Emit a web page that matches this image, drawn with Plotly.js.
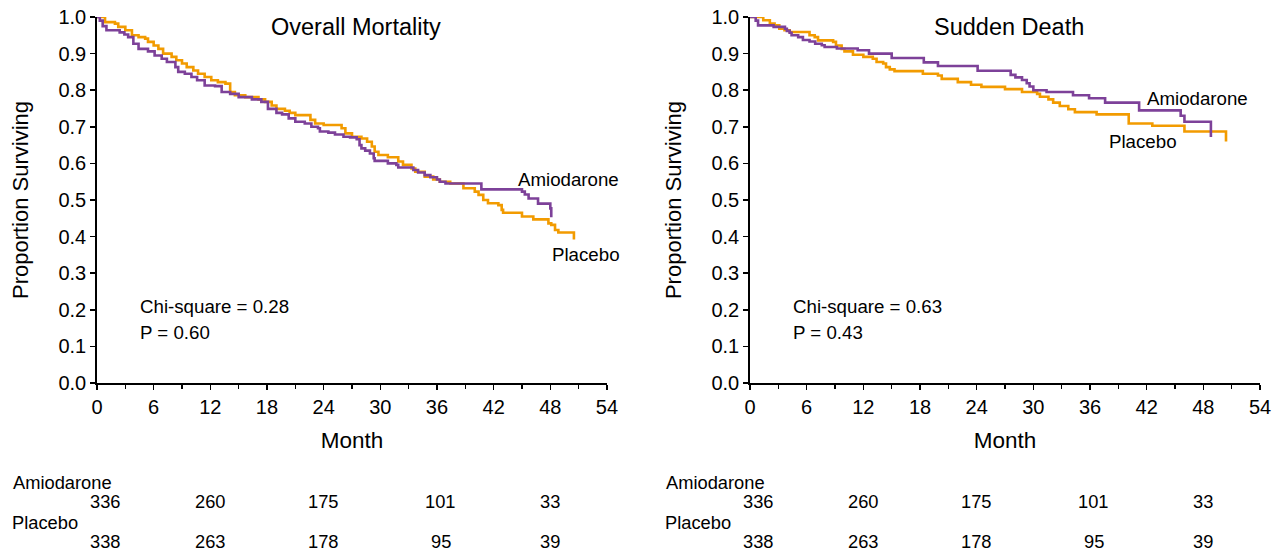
<!DOCTYPE html>
<html>
<head>
<meta charset="utf-8">
<script src="https://cdn.plot.ly/plotly-3.0.1.min.js"></script>
<style>html,body{margin:0;padding:0;background:#fff;}#chart{width:1281px;height:557px;}</style>
</head>
<body>
<div id="chart"></div>
<script>
// ---------- Data ----------
const panelTitles = ["Overall Mortality", "Sudden Death"];
const seriesNames = ["Amiodarone", "Placebo"];

// Overall mortality – Amiodarone
const omAmioMonth = [0, 0.3, 0.6, 1.0, 2.4, 2.9, 3.3, 3.85, 4.4, 5.4, 6.1, 6.85, 7.4, 8.3, 8.6, 9.3, 10.0, 10.6, 11.4, 12.5, 13.2, 14.1, 15.0, 16.4, 17.4, 18.1, 19.0, 19.6, 20.3, 21.0, 22.0, 22.7, 23.4, 23.6, 24.5, 25.2, 26.1, 26.8, 27.5, 27.8, 28.0, 28.4, 28.9, 29.3, 29.4, 30.8, 31.7, 31.9, 33.5, 34.0, 34.7, 35.3, 36.0, 36.3, 36.9, 40.7, 45.0, 45.3, 45.7, 46.7, 48.0, 48.1];
const omAmioSurv  = [1.0, 0.99, 0.975, 0.964, 0.958, 0.952, 0.945, 0.927, 0.913, 0.906, 0.895, 0.886, 0.877, 0.863, 0.85, 0.845, 0.836, 0.827, 0.813, 0.811, 0.795, 0.79, 0.781, 0.775, 0.768, 0.749, 0.738, 0.734, 0.723, 0.714, 0.709, 0.70, 0.696, 0.687, 0.684, 0.679, 0.673, 0.671, 0.666, 0.65, 0.641, 0.635, 0.627, 0.614, 0.607, 0.60, 0.596, 0.589, 0.582, 0.575, 0.568, 0.562, 0.556, 0.55, 0.545, 0.529, 0.523, 0.515, 0.504, 0.49, 0.477, 0.453];

// Overall mortality – Placebo
const omPlacMonth = [0, 0.85, 1.9, 2.25, 3.0, 3.7, 4.4, 5.1, 5.4, 6.0, 6.5, 7.0, 7.9, 8.4, 9.0, 9.5, 10.2, 10.7, 11.4, 12.1, 12.8, 13.6, 14.1, 14.6, 15.7, 17.1, 17.8, 18.5, 19.0, 19.9, 20.4, 21.0, 22.6, 23.1, 24.0, 25.9, 26.3, 27.0, 28.0, 28.6, 29.1, 29.4, 29.8, 30.8, 31.9, 32.4, 33.3, 33.7, 34.7, 35.6, 36.3, 37.4, 38.8, 40.0, 40.4, 40.9, 41.4, 42.5, 42.85, 43.0, 45.0, 46.2, 47.8, 48.1, 48.5, 48.85, 50.5];
const omPlacSurv  = [1.0, 0.986, 0.982, 0.973, 0.964, 0.95, 0.945, 0.941, 0.932, 0.922, 0.913, 0.90, 0.891, 0.882, 0.873, 0.863, 0.854, 0.845, 0.836, 0.827, 0.822, 0.818, 0.795, 0.786, 0.781, 0.775, 0.768, 0.758, 0.749, 0.744, 0.738, 0.732, 0.719, 0.709, 0.705, 0.696, 0.682, 0.673, 0.668, 0.659, 0.646, 0.632, 0.623, 0.617, 0.605, 0.596, 0.586, 0.577, 0.564, 0.556, 0.55, 0.545, 0.532, 0.523, 0.514, 0.50, 0.491, 0.486, 0.473, 0.465, 0.455, 0.447, 0.436, 0.432, 0.418, 0.411, 0.392];

// Sudden death – Amiodarone
const sdAmioMonth = [0, 0.6, 0.85, 2.5, 3.7, 3.9, 4.2, 4.4, 5.1, 5.6, 6.3, 6.9, 7.6, 7.9, 9.2, 11.4, 12.6, 15.0, 18.4, 19.9, 24.1, 27.6, 28.1, 28.8, 29.3, 29.6, 30.0, 31.4, 34.2, 35.9, 37.6, 41.2, 45.6, 46.0, 48.8];
const sdAmioSurv  = [1.0, 0.99, 0.977, 0.973, 0.968, 0.962, 0.957, 0.95, 0.945, 0.937, 0.933, 0.927, 0.923, 0.918, 0.914, 0.909, 0.90, 0.888, 0.876, 0.866, 0.853, 0.842, 0.835, 0.828, 0.819, 0.81, 0.80, 0.795, 0.786, 0.778, 0.766, 0.745, 0.73, 0.714, 0.672];

// Sudden death – Placebo
const sdPlacMonth = [0, 1.4, 2.1, 2.6, 3.1, 3.65, 4.2, 6.3, 6.85, 7.2, 8.8, 9.1, 9.7, 10.0, 10.9, 12.0, 13.0, 13.4, 14.1, 14.4, 14.8, 15.3, 18.3, 19.9, 20.3, 22.0, 23.4, 24.5, 27.0, 28.8, 30.4, 30.7, 31.6, 32.1, 32.8, 33.7, 34.4, 36.7, 40.1, 42.6, 46.0, 50.4];
const sdPlacSurv  = [1.0, 0.991, 0.982, 0.977, 0.968, 0.964, 0.959, 0.95, 0.945, 0.936, 0.932, 0.922, 0.913, 0.906, 0.897, 0.891, 0.886, 0.877, 0.873, 0.863, 0.857, 0.852, 0.845, 0.84, 0.831, 0.822, 0.815, 0.809, 0.803, 0.795, 0.79, 0.782, 0.775, 0.766, 0.757, 0.748, 0.74, 0.734, 0.709, 0.703, 0.687, 0.66];

// Statistics text
const chiSquare = ["0.28", "0.63"];
const pValues   = ["0.60", "0.43"];

// Numbers at risk
const riskMonths  = [0.9, 12, 24, 36.4, 48];
const riskAmio    = [336, 260, 175, 101, 33];
const riskPlacebo = [338, 263, 178, 95, 39];

// Axis ticks
const xTicks = [0, 6, 12, 18, 24, 30, 36, 42, 48, 54];
const yTicks = [0, 0.1, 0.2, 0.3, 0.4, 0.5, 0.6, 0.7, 0.8, 0.9, 1.0];

// ---------- Styling ----------
const PURPLE = "#7D4199";
const ORANGE = "#F29B00";
const FONT = "Liberation Sans, Arial, sans-serif";

function stepTrace(x, y, color, name, xa, ya) {
  return {x: x, y: y, type: "scatter", mode: "lines", name: name,
          line: {shape: "hv", color: color, width: 2.6},
          xaxis: xa, yaxis: ya, showlegend: false, hoverinfo: "skip"};
}

const traces = [
  stepTrace(omPlacMonth, omPlacSurv, ORANGE, seriesNames[1], "x", "y"),
  stepTrace(omAmioMonth, omAmioSurv, PURPLE, seriesNames[0], "x", "y"),
  stepTrace(sdPlacMonth, sdPlacSurv, ORANGE, seriesNames[1], "x2", "y2"),
  stepTrace(sdAmioMonth, sdAmioSurv, PURPLE, seriesNames[0], "x2", "y2")
];

function xAxis(domain, anchor) {
  return {domain: domain, anchor: anchor, range: [0, 54], tickvals: xTicks,
          ticks: "outside", ticklen: 5, tickwidth: 1.5, tickcolor: "#000",
          showline: true, linecolor: "#000", linewidth: 1.8, showgrid: false, zeroline: false,
          tickfont: {family: FONT, size: 20, color: "#000"},
          minor: {dtick: 3, tick0: 0, ticks: "outside", ticklen: 4, tickwidth: 1.5, tickcolor: "#000", showgrid: false},
          title: {text: "Month", font: {family: FONT, size: 22.5, color: "#000"}, standoff: 15},
          fixedrange: true};
}
function yAxis(anchor) {
  return {domain: [0, 1], anchor: anchor, range: [0, 1.0], tickvals: yTicks, tickformat: ".1f",
          ticks: "outside", ticklen: 5, tickwidth: 1.5, tickcolor: "#000",
          showline: true, linecolor: "#000", linewidth: 1.8, showgrid: false, zeroline: false,
          tickfont: {family: FONT, size: 20, color: "#000"},
          title: {text: "Proportion Surviving", font: {family: FONT, size: 22, color: "#000"}, standoff: 24},
          fixedrange: true};
}

const ann = [];
function txt(o) { ann.push(Object.assign({showarrow: false, font: {family: FONT, size: 18.7, color: "#000"}}, o)); }

const panels = [{x: "x", y: "y", dom: "x domain"}, {x: "x2", y: "y2", dom: "x2 domain"}];
const labelPos = [
  {amio: [49.9, 0.555], plac: [51.8, 0.352]},
  {amio: [47.4, 0.776], plac: [41.6, 0.661]}
];
panels.forEach(function (p, i) {
  txt({xref: p.dom, yref: "paper", x: 0.508, y: 0.973, xanchor: "center", yanchor: "middle",
       text: panelTitles[i], font: {family: FONT, size: 23.5, color: "#000"}});
  txt({xref: p.x, yref: p.y, x: 4.3, y: 0.208, xanchor: "left", yanchor: "middle",
       text: "Chi-square = " + chiSquare[i]});
  txt({xref: p.x, yref: p.y, x: 4.3, y: 0.137, xanchor: "left", yanchor: "middle",
       text: "P = " + pValues[i]});
  txt({xref: p.x, yref: p.y, x: labelPos[i].amio[0], y: labelPos[i].amio[1], xanchor: "center", yanchor: "middle",
       text: seriesNames[0]});
  txt({xref: p.x, yref: p.y, x: labelPos[i].plac[0], y: labelPos[i].plac[1], xanchor: "center", yanchor: "middle",
       text: seriesNames[1]});
  // numbers at risk
  txt({xref: p.dom, yref: "paper", x: -0.168, y: -0.2705, xanchor: "left", yanchor: "middle", text: seriesNames[0], font: {family: FONT, size: 18.3, color: "#000"}});
  txt({xref: p.dom, yref: "paper", x: -0.170, y: -0.380, xanchor: "left", yanchor: "middle", text: seriesNames[1], font: {family: FONT, size: 18.3, color: "#000"}});
  riskMonths.forEach(function (m, k) {
    txt({xref: p.x, yref: "paper", x: m, y: -0.325, xanchor: "center", yanchor: "middle", text: String(riskAmio[k]), font: {family: FONT, size: 18.3, color: "#000"}});
    txt({xref: p.x, yref: "paper", x: m, y: -0.434, xanchor: "center", yanchor: "middle", text: String(riskPlacebo[k]), font: {family: FONT, size: 18.3, color: "#000"}});
  });
});

const layout = {
  width: 1281, height: 557,
  margin: {l: 97, r: 21, t: 17, b: 174, pad: 0},
  paper_bgcolor: "#fff", plot_bgcolor: "#fff",
  font: {family: FONT, color: "#000"},
  xaxis: xAxis([0, 0.4385], "y"),
  yaxis: yAxis("x"),
  xaxis2: xAxis([0.5615, 1.0], "y2"),
  yaxis2: yAxis("x2"),
  annotations: ann,
  showlegend: false
};

Plotly.newPlot("chart", traces, layout, {displayModeBar: false, staticPlot: true});
</script>
</body>
</html>
